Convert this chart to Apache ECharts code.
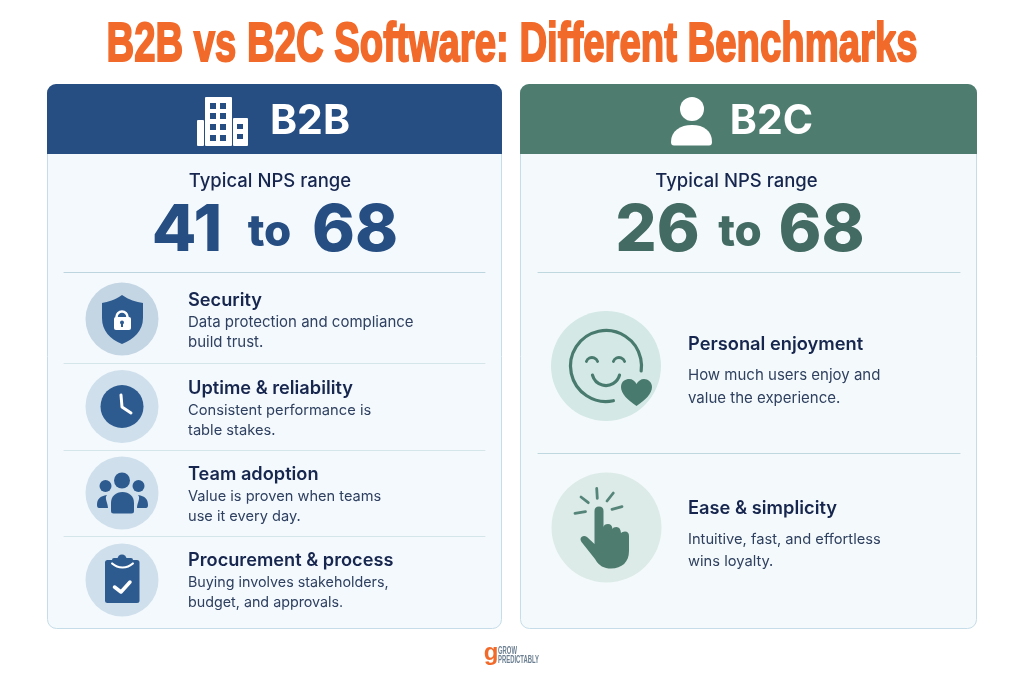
<!DOCTYPE html>
<html>
<head>
<meta charset="utf-8">
<title>B2B vs B2C Software</title>
<style>
  html, body { margin: 0; padding: 0; background: #fff; }
  #chart { width: 1024px; height: 683px; }
</style>
<script src="https://cdn.jsdelivr.net/npm/echarts@6/dist/echarts.min.js"></script>
</head>
<body>
<div id="chart"></div>
<script>
var titleText = 'B2B vs B2C Software: Different Benchmarks';
var rangeLabel = 'Typical NPS range';
var b2bRange = ['41', 'to', '68'];
var b2cRange = ['26', 'to', '68'];
var b2bTitles = ['Security', 'Uptime & reliability', 'Team adoption', 'Procurement & process'];
var b2bLines = [
  ['Data protection and compliance', 'build trust.'],
  ['Consistent performance is', 'table stakes.'],
  ['Value is proven when teams', 'use it every day.'],
  ['Buying involves stakeholders,', 'budget, and approvals.']
];
var b2cTitles = ['Personal enjoyment', 'Ease & simplicity'];
var b2cLines = [
  ['How much users enjoy and', 'value the experience.'],
  ['Intuitive, fast, and effortless', 'wins loyalty.']
];

var SANS = 'Inter';
var WIDE = '"Liberation Sans"';
var BLUE = '#264e82', BLUE_ICON = '#2d5b90', GREEN = '#4e7d70', GREEN_DARK = '#436b63';
var INK = '#17264e', BODY = '#2f4060', ORANGE = '#f26a2a';

var els = [];
var shapeCount = 0;

function text(str, x, y, size, weight, fill, family, align) {
  els.push({
    type: 'text', silent: true,
    style: {
      text: str, x: x, y: y, fill: fill,
      font: weight + ' ' + size + 'px ' + (family || SANS),
      textAlign: align || 'left', textVerticalAlign: 'middle'
    }
  });
}
// Liberation Sans squeezed sideways, there is no condensed face installed
function squeezed(str, x, y, size, sx, fill, align, outline) {
  els.push({
    type: 'text', silent: true, x: x, y: y, scaleX: sx,
    style: {
      text: str, x: 0, y: 0, fill: fill,
      font: 'bold ' + size + 'px ' + WIDE,
      textAlign: align, textVerticalAlign: 'middle',
      stroke: outline ? fill : 'none', lineWidth: outline || 0
    }
  });
}
function rect(x, y, w, h, r, fill, stroke) {
  els.push({
    type: 'rect', silent: true,
    shape: { x: x, y: y, width: w, height: h, r: r },
    style: { fill: fill || 'none', stroke: stroke || 'none', lineWidth: 1 }
  });
}
function circle(cx, cy, r, fill) {
  els.push({ type: 'circle', silent: true, shape: { cx: cx, cy: cy, r: r }, style: { fill: fill } });
}
function line(x1, y1, x2, y2, color, w) {
  els.push({
    type: 'line', silent: true,
    shape: { x1: x1, y1: y1, x2: x2, y2: y2 },
    style: { stroke: color, lineWidth: w || 1, lineCap: 'round' }
  });
}
function poly(pts, color, w) {
  els.push({
    type: 'polyline', silent: true,
    shape: { points: pts },
    style: { stroke: color, lineWidth: w, lineCap: 'round', lineJoin: 'round', fill: 'none' }
  });
}
function arc(cx, cy, r, a0, a1, color, w) {
  els.push({
    type: 'arc', silent: true,
    shape: { cx: cx, cy: cy, r: r, startAngle: a0 * Math.PI / 180, endAngle: a1 * Math.PI / 180, clockwise: true },
    style: { stroke: color, lineWidth: w, lineCap: 'round', fill: 'none' }
  });
}
// the graphic component has no path type, so each outline is registered as a shape
function path(d, fill) {
  var name = 'iconShape' + (shapeCount++);
  echarts.graphic.registerShape(name, echarts.graphic.extendPath(d, {}));
  els.push({ type: name, silent: true, style: { fill: fill } });
}

squeezed(titleText, 512, 45.5, 56, 0.684, ORANGE, 'center', 2);

// cards
rect(47.5, 84.5, 454, 544, 9, '#f3f9fd', '#c6dce8');
rect(47, 84, 455, 70, [9, 9, 0, 0], BLUE);
rect(520.5, 84.5, 456, 544, 9, '#f4fafb', '#c6dce8');
rect(520, 84, 457, 70, [9, 9, 0, 0], GREEN);

// header icons
rect(205, 97, 27, 49, 1, '#fff');
rect(197, 120, 7, 26, 1, '#fff');
rect(233, 118, 15, 28, 1, '#fff');
[103, 113, 124, 135].forEach(function (y) {
  rect(210, y, 6, 6, 0, BLUE);
  rect(220, y, 6, 6, 0, BLUE);
});
[124, 134].forEach(function (y) { rect(237, y, 6, 5, 0, BLUE); });
text('B2B', 310, 122, 41, 700, '#fff', SANS, 'center');

circle(692, 109, 12, '#fff');
path('M671 142 C671 131 680 125 692 125 C704 125 712 131 712 142 Q712 145.500 709 145.500 L674 145.500 Q671 145.500 671 142 Z', '#fff');
text('B2C', 771.5, 122, 41, 700, '#fff', SANS, 'center');

// ranges
text(rangeLabel, 270, 181, 18.5, 500, INK, SANS, 'center');
text(rangeLabel, 736.5, 181, 18.5, 500, INK, SANS, 'center');
text(b2bRange[0], 187, 231.5, 65, 800, BLUE, SANS, 'center');
text(b2bRange[1], 269.5, 233, 44, 800, BLUE, SANS, 'center');
text(b2bRange[2], 355, 231.5, 65, 800, BLUE, SANS, 'center');
text(b2cRange[0], 657.5, 231.5, 65, 800, GREEN_DARK, SANS, 'center');
text(b2cRange[1], 740, 233, 44, 800, GREEN_DARK, SANS, 'center');
text(b2cRange[2], 821.5, 231.5, 65, 800, GREEN_DARK, SANS, 'center');

// dividers
[272.5, 363.5, 450.5, 536.5].forEach(function (y, i) {
  line(64, y, 485, y, i ? '#d5e6ea' : '#bdd5de', 1);
});
[272.5, 453.5].forEach(function (y) { line(538, y, 960, y, '#bfd7de', 1); });

// left rows, body size nudged per row to keep the line ends where the original has them
var b2bY = [300.5, 388.5, 474.5, 561];
var b2bBodySize = [15, 14.7, 14.6, 14.3];
b2bTitles.forEach(function (t, i) {
  text(t, 188, b2bY[i], 18.2, 600, INK);
  text(b2bLines[i][0], 188, b2bY[i] + 22, b2bBodySize[i], 400, BODY);
  text(b2bLines[i][1], 188, b2bY[i] + 42, b2bBodySize[i], 400, BODY);
});

// right rows
var b2cY = [344.5, 508.5];
var b2cBodySize = [15, 14.7];
b2cTitles.forEach(function (t, i) {
  text(t, 688, b2cY[i], 18.3, 600, INK);
  text(b2cLines[i][0], 688, b2cY[i] + 31, b2cBodySize[i], 400, BODY);
  text(b2cLines[i][1], 688, b2cY[i] + 53.5, b2cBodySize[i], 400, BODY);
});

// shield
circle(122, 319, 36.5, '#c4d5e3');
path('M122 295 C129 300 136 302 143 303 L143 318 C143 331 134 339 122 344 C110 339 102 331 102 318 L102 303 C108 302 115 300 122 295 Z', BLUE_ICON);
arc(122, 317, 5.5, 180, 360, '#fff', 2.6);
rect(114, 317, 17, 13, 2, '#fff');
circle(122, 322.5, 2, BLUE_ICON);
rect(121, 323, 2, 4, 0, BLUE_ICON);

// clock
circle(122, 406.5, 36.5, '#cfdfeb');
circle(122, 406.5, 21.5, BLUE_ICON);
poly([[121, 395], [122, 407], [131, 413]], '#fff', 3);

// team
circle(122, 493, 36.5, '#cfdfeb');
circle(122, 480.5, 8, BLUE_ICON);
circle(105.5, 486, 6, BLUE_ICON);
circle(138.5, 486, 6, BLUE_ICON);
path('M111 503 C111 496 116 492 122.500 492 C129 492 134 496 134 503 L134 511 Q134 513.500 131.500 513.500 L113.500 513.500 Q111 513.500 111 511 Z', BLUE_ICON);
path('M97 505 C97 499 100 496 107 495 C104 498 108 503 108 508 L99 508 Q97 508 97 505 Z', BLUE_ICON);
path('M148 505 C148 499 145 496 138 495 C141 498 137 503 137 508 L146 508 Q148 508 148 505 Z', BLUE_ICON);

// clipboard
circle(122, 580, 36.5, '#cfdfeb');
rect(105, 560, 34.5, 43, 2.5, BLUE_ICON);
circle(122, 559, 4.5, BLUE_ICON);
rect(112, 558, 21, 6, 2, BLUE_ICON);
arc(122.5, 552, 15.5, 48, 132, '#fff', 2.2);
poly([[114.5, 587], [121, 592], [130, 582]], '#fff', 3.5);

// smiley and heart
circle(606, 366, 55, '#d4e8e6');
arc(606, 366, 35.5, 78, 368, '#487a6d', 3.2);
arc(592, 363.5, 6, 200, 340, '#487a6d', 2.8);
arc(619, 363.5, 6, 200, 340, '#487a6d', 2.8);
arc(606, 371.5, 14, 15, 165, '#487a6d', 3.2);
path('M636.500 406 C628 400 621 394 621 387 C621 381 626 379 629 379 C632.500 379 635 381 636.500 384 C638 381 641 379 644 379 C648 379 652 382 652 387 C652 394 645 400 636.500 406 Z', '#487a6d');

// pointing hand
circle(606.5, 527.5, 55, '#dcebe8');
[
  [596.7, 488.5, 597.3, 498.3],
  [581, 497, 588.3, 502.7],
  [613.3, 493, 607, 501],
  [575, 513.3, 585.5, 511.7],
  [612, 509.3, 622, 506.7]
].forEach(function (p) { line(p[0], p[1], p[2], p[3], '#558478', 2.8); });
path('M594.500 511 Q594.500 506.500 599 506.500 Q603.500 506.500 603.500 511 L603.500 527 Q604 524 608 524 Q612 524 612.500 529 Q613 527 616.500 527 Q620.500 527 621 533 Q622 531.500 625 531.500 Q629 531.500 629 536 L629 551 C629 562 622 568.500 611 568.500 C604 568.500 599 566 595 559 L581.500 542 Q579.500 539 581.500 537 Q584 535 587 537 L594.500 544 Z', GREEN);

// footer logo
text('g', 491, 653, 24, 700, ORANGE, WIDE, 'center');
squeezed('GROW', 498, 651.5, 10, 0.59, '#6b7f91', 'left');
squeezed('PREDICTABLY', 498, 660.5, 10, 0.59, '#6b7f91', 'left');

var chart = echarts.init(document.getElementById('chart'));
chart.setOption({
  backgroundColor: '#ffffff',
  animation: false,
  graphic: { elements: els }
});
</script>
</body>
</html>
